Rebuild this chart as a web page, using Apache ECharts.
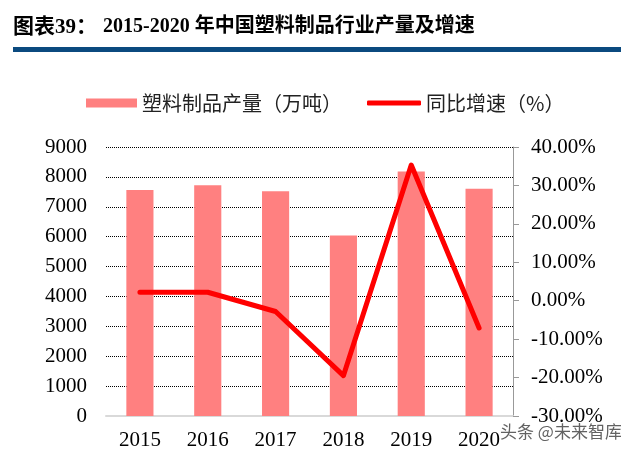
<!DOCTYPE html>
<html>
<head>
<meta charset="utf-8">
<script src="https://cdn.jsdelivr.net/npm/echarts@6/dist/echarts.min.js"></script>
<style>html,body{margin:0;padding:0;background:#fff;}#c{width:621px;height:455px;}</style>
</head>
<body>
<div id="c"></div>
<script>
var years = ['2015', '2016', '2017', '2018', '2019', '2020'];
var output = [7560.7, 7717.2, 7515.5, 6042.1, 8184.2, 7603.2];
var growth = [2.2, 2.2, -2.8, -19.5, 35.3, -7.1];
var leftTicks = {min: 0, max: 9000, interval: 1000};
var rightTicks = {min: -30, max: 40, interval: 10};

var chart = echarts.init(document.getElementById('c'));
var serif = 'Liberation Serif, Times New Roman, serif';
chart.setOption({
  animation: false,
  backgroundColor: '#fff',
  grid: {left: 106, right: 108, top: 147, bottom: 39},
  graphic: [
    {type: 'text', left: 13, top: 17, style: {text: '图表39：', font: 'bold 21px "Liberation Serif", "Noto Sans CJK SC"', fill: '#000'}},
    {type: 'text', left: 103, top: 17, style: {text: '2015-2020 年中国塑料制品行业产量及增速', font: 'bold 20px "Liberation Serif", "Noto Sans CJK SC"', fill: '#000'}},
    {type: 'rect', shape: {x: 13, y: 47, width: 608, height: 5}, style: {fill: '#0B4A7F'}},
    {type: 'text', left: 500, top: 423, style: {text: '头条 @未来智库', font: '17px "Noto Sans CJK SC"', fill: 'rgba(70,70,70,0.85)'}}
  ],
  legend: [
    {data: [{name: '塑料制品产量（万吨）', icon: 'rect'}], left: 81, top: 88, itemWidth: 51, itemHeight: 9,
     textStyle: {fontSize: 20, color: '#222', fontFamily: 'Noto Sans CJK SC'}},
    {data: [{name: '同比增速（%）', icon: 'roundRect'}], left: 362, top: 88, itemWidth: 54, itemHeight: 5,
     textStyle: {fontSize: 20, color: '#222', fontFamily: 'Noto Sans CJK SC'}}
  ],
  xAxis: {
    type: 'category', data: years,
    axisLine: {lineStyle: {color: '#d9d9d9', width: 2}},
    axisTick: {show: false},
    axisLabel: {fontSize: 21, fontFamily: serif, color: '#000', margin: 14}
  },
  yAxis: [
    {type: 'value', min: leftTicks.min, max: leftTicks.max, interval: leftTicks.interval,
     axisLine: {show: false}, axisTick: {show: false},
     axisLabel: {fontSize: 21, fontFamily: serif, color: '#000', margin: 19,
       formatter: function (v) { return String(v); }},
     splitLine: {lineStyle: {color: '#000', type: [1, 1], width: 1}}},
    {type: 'value', min: rightTicks.min, max: rightTicks.max, interval: rightTicks.interval, position: 'right',
     axisLine: {show: true, lineStyle: {color: '#999', width: 1}},
     axisTick: {show: true, inside: false, length: 6, lineStyle: {color: '#999'}},
     axisLabel: {fontSize: 21, fontFamily: serif, color: '#000', margin: 18,
       formatter: function (v) { return v.toFixed(2) + '%'; }},
     splitLine: {show: false}}
  ],
  series: [
    {name: '塑料制品产量（万吨）', type: 'bar', data: output, barWidth: '40%', yAxisIndex: 0,
     itemStyle: {color: '#FF8080'}},
    {name: '同比增速（%）', type: 'line', data: growth, yAxisIndex: 1, symbol: 'none',
     lineStyle: {color: '#FF0000', width: 5, cap: 'round', join: 'round'}, itemStyle: {color: '#FF0000'}}
  ]
});
</script>
</body>
</html>
